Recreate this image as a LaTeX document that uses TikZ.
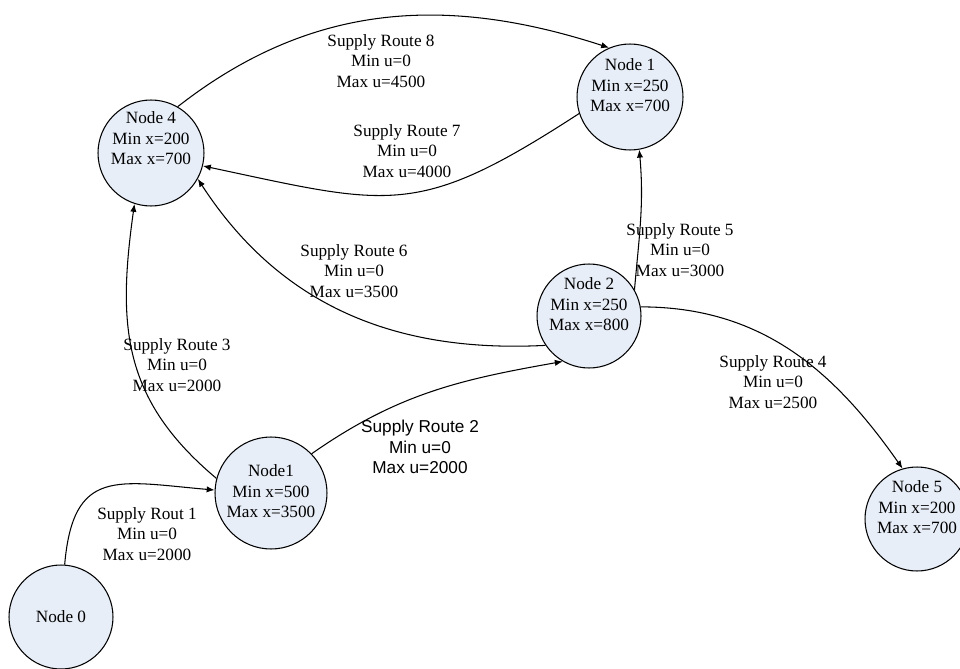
\documentclass[tikz,border=0pt]{standalone}
\usepackage{fontspec}
\setmainfont{Liberation Serif}
\newfontfamily\arialfont{Liberation Sans}
\usetikzlibrary{arrows.meta}
\definecolor{nodefill}{RGB}{232,238,248}
\newcommand{\nodetext}[2][0.2cm]{\raisebox{#1}[\height][\depth]{\begin{tabular}{@{}c@{}}#2\end{tabular}}}

\begin{document}
\begin{tikzpicture}
    [x=0.02cm,y=-0.02cm,font=\fontsize{9.8}{11.7}\selectfont,
     station/.style={draw, circle, fill=nodefill, line width=0.6pt, inner sep=0pt, minimum size=2.08cm},
     route/.style={-{Latex[length=4.5pt,width=3.6pt]}, line width=0.6pt},
     info/.style={align=center, inner sep=0pt}]
  \useasboundingbox (0,0) rectangle (960,669);

  % nodes
  \node[station] (n0) at (61,617) {Node 0};
  \node[station, minimum size=2.24cm] (n1b) at (271,493) {\nodetext[0cm]{Node1\\Min x=500\\Max x=3500}};
  \node[station] (n2) at (589,316) {\nodetext{Node 2\\Min x=250\\Max x=800}};
  \node[station, minimum size=2.12cm] (n1) at (630,97) {\nodetext{Node 1\\Min x=250\\Max x=700}};
  \node[station, minimum size=2.12cm] (n4) at (151,153) {\nodetext[0.26cm]{Node 4\\Min x=200\\Max x=700}};
  \node[station] (n5) at (917,519) {\nodetext{Node 5\\Min x=200\\Max x=700}};

  % supply routes
  \foreach \from/\to/\o/\i/\l in {n0.86/n1b.177/85/175/1.5, n1b.44/n2.240/35/190/1,
      n1b.165/n4.252/140/262/1.1, n2.10/n5.106/0/125/1, n2.30/n1.280/85/-85/1,
      n2.214/n4.331/183/-57/1, n1.198/n4.346/213/-12/1.3, n4.60/n1.113/38/162/1}
    \draw[route] (\from) to[out=\o,in=\i,looseness=\l] (\to);

  % route labels
  \node[info] (r1) at (147,534) {Supply Rout 1\\Min u=0\\Max u=2000};
  \node[info, font=\fontsize{9.8}{11.7}\selectfont\arialfont] (r2) at (420,447) {Supply Route 2\\Min u=0\\Max u=2000};
  \node[info] (r3) at (177,365) {Supply Route 3\\Min u=0\\Max u=2000};
  \node[info] (r4) at (773,382) {Supply Route 4\\Min u=0\\Max u=2500};
  \node[info] (r5) at (680,250) {Supply Route 5\\Min u=0\\Max u=3000};
  \node[info] (r6) at (354,271) {Supply Route 6\\Min u=0\\Max u=3500};
  \node[info] (r7) at (407,151) {Supply Route 7\\Min u=0\\Max u=4000};
  \node[info] (r8) at (381,61) {Supply Route 8\\Min u=0\\Max u=4500};
\end{tikzpicture}
\end{document}
